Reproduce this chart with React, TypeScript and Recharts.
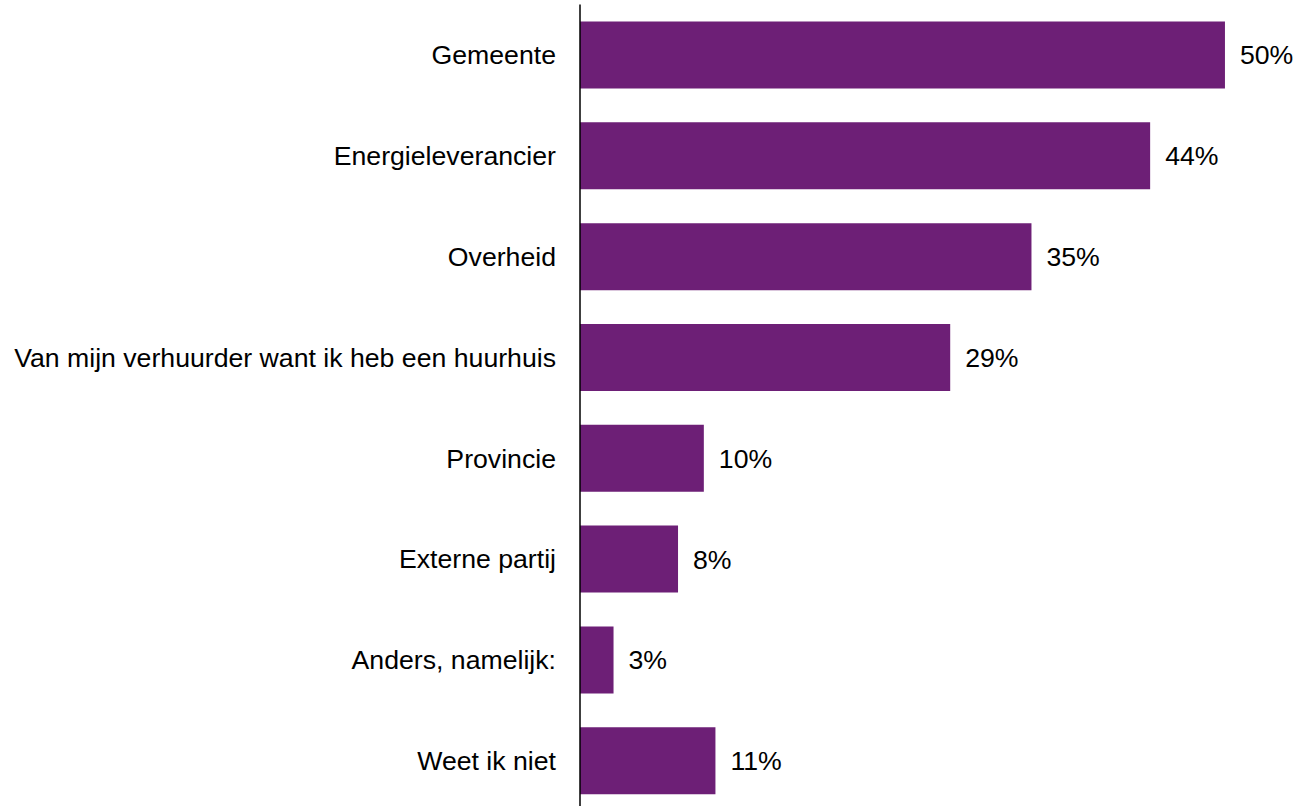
import React from 'react';
import { BarChart, Bar, XAxis, YAxis, LabelList } from 'recharts';

// answers, top to bottom
const categories = [
  'Gemeente',
  'Energieleverancier',
  'Overheid',
  'Van mijn verhuurder want ik heb een huurhuis',
  'Provincie',
  'Externe partij',
  'Anders, namelijk:',
  'Weet ik niet',
];

// share in %
const shares = [50, 44.2, 35, 28.7, 9.6, 7.6, 2.6, 10.5];

const BAR_FILL = '#6D1F76';
const FONT = 'Arial, "Liberation Sans", sans-serif';
const FONT_SIZE = 26.67;

const data = categories.map((name, i) => ({ name, share: shares[i] }));

const App = () => {
  return (
    <div
      style={{
        position: 'fixed',
        left: 0,
        top: 0,
        width: 1299,
        height: 806,
        overflow: 'hidden',
        background: '#fff',
      }}
    >
      <BarChart
        width={1299}
        height={811}
        data={data}
        layout="vertical"
        margin={{ top: 4.5, right: 0, bottom: 0, left: 0 }}
      >
        <XAxis type="number" domain={[0, 55.74]} hide />
        <YAxis
          type="category"
          dataKey="name"
          width={580}
          tickLine={false}
          tickSize={0}
          tickMargin={24}
          axisLine={{ stroke: '#000', strokeWidth: 1.5 }}
          tick={{ fontSize: FONT_SIZE, fill: '#000', fontFamily: FONT }}
        />
        <Bar dataKey="share" fill={BAR_FILL} barSize={67} isAnimationActive={false}>
          <LabelList
            dataKey="share"
            position="right"
            offset={15}
            formatter={(v: number) => `${Math.round(v)}%`}
            style={{ fontSize: FONT_SIZE, fill: '#000', fontFamily: FONT }}
          />
        </Bar>
      </BarChart>
    </div>
  );
};

export default App;
